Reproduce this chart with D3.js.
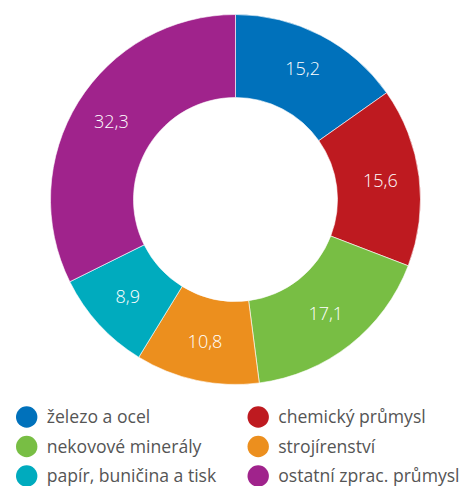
<!DOCTYPE html>
<html>
<head>
<meta charset="utf-8">
<script src="https://cdn.jsdelivr.net/npm/d3@7"></script>
<style>
  body { margin: 0; background: #fff; }
  text { font-family: "Open Sans", "Noto Sans", sans-serif; }
</style>
</head>
<body>
<div id="chart"></div>
<script>
var categories = ["železo a ocel", "chemický průmysl", "nekovové minerály",
                  "strojírenství", "papír, buničina a tisk", "ostatní zprac. průmysl"]
  , values = [15.2, 15.6, 17.1, 10.8, 8.9, 32.3]
  , colors = ["#0071bb", "#be1a20", "#78be44", "#ec8f1e", "#00abbe", "#a0238c"]
  ;

var width = 460
  , height = 486
  , cx = 235.5
  , cy = 199.5
  , outerR = 185
  , innerR = 102
  , labelR = 146
  ;

var svg = d3.select("#chart").append("svg")
  .attr("width", width)
  .attr("height", height);

var pie = d3.pie().sort(null).value(function (d) { return d; })
  , arc = d3.arc().innerRadius(innerR).outerRadius(outerR)
  , labelArc = d3.arc().innerRadius(labelR).outerRadius(labelR)
  , arcs = pie(values)
  ;

var g = svg.append("g").attr("transform", "translate(" + cx + "," + cy + ")");

g.selectAll("path").data(arcs).enter().append("path")
  .attr("d", arc)
  .attr("fill", function (d, i) { return colors[i]; })
  .attr("stroke", "#fff")
  .attr("stroke-width", 0.6);

g.selectAll("text").data(arcs).enter().append("text")
  .attr("transform", function (d) { return "translate(" + labelArc.centroid(d) + ")"; })
  .attr("text-anchor", "middle")
  .attr("dy", "0.3em")
  .attr("fill", "#fff")
  .attr("font-size", "18px")
  .attr("font-weight", 300)
  .text(function (d) { return String(d.data).replace(".", ","); });

// legend, two columns
var legend = svg.selectAll("g.legend").data(categories).enter().append("g")
  .attr("class", "legend")
  .attr("transform", function (d, i) {
    var col = i % 2, row = Math.floor(i / 2);
    return "translate(" + (26.7 + col * 231.5) + "," + (417 + row * 29.5) + ")";
  });

legend.append("circle")
  .attr("r", 10.7)
  .attr("fill", function (d, i) { return colors[i]; });

legend.append("text")
  .attr("x", 20)
  .attr("dy", "0.35em")
  .attr("fill", "#555")
  .attr("font-size", "17.6px")
  .text(function (d) { return d; });
</script>
</body>
</html>
